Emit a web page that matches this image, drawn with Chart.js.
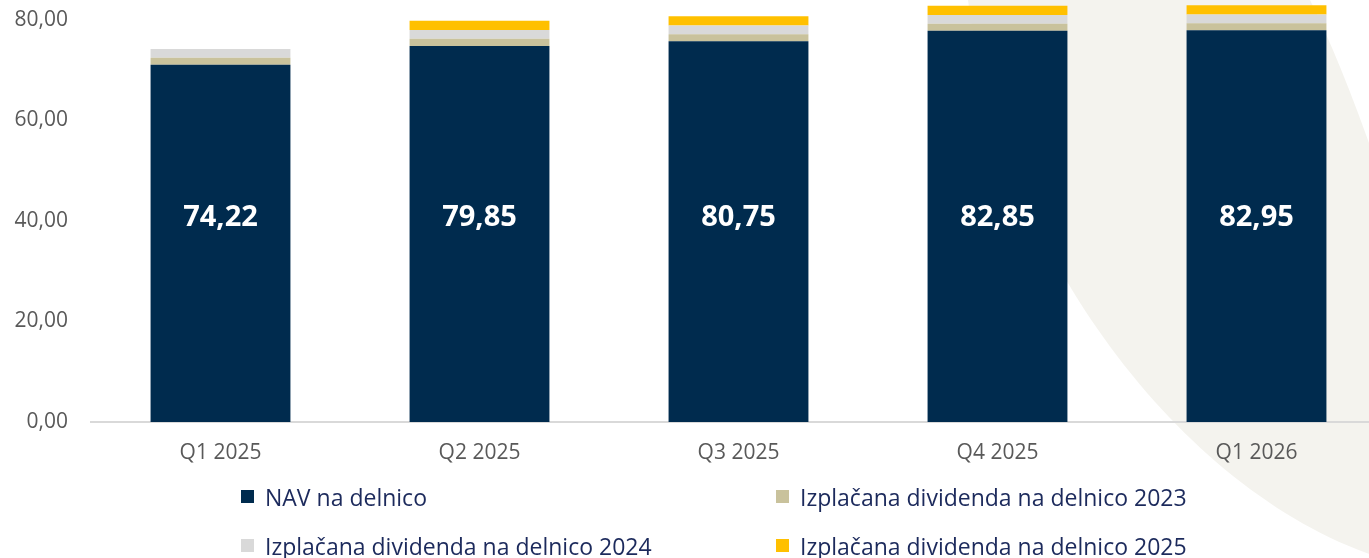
<!DOCTYPE html>
<html>
<head>
<meta charset="utf-8">
<script src="https://cdn.jsdelivr.net/npm/chart.js@4/dist/chart.umd.min.js"></script>
<style>
  html, body { margin: 0; padding: 0; background: #fff; overflow: hidden; }
  #wrap { position: relative; width: 1386px; height: 558px; }
  #legend {
    position: absolute; left: 241px; top: 472px;
    display: grid; grid-template-columns: 535px auto; grid-auto-rows: 49px;
    font-family: "Open Sans", sans-serif; font-size: 23px; color: #1c2a5c;
  }
  #legend .item { display: flex; align-items: center; white-space: nowrap; }
  #legend .box { width: 13px; height: 13px; margin-right: 11px; }
</style>
</head>
<body>
<div id="wrap">
  <canvas id="nav-chart" width="1386" height="558"></canvas>
  <div id="legend"></div>
</div>
<script>
var quarters = ['Q1 2025', 'Q2 2025', 'Q3 2025', 'Q4 2025', 'Q1 2026'];
var navPerShare = [71.07, 74.85, 75.75, 77.85, 77.95];
var div2023 = [1.4, 1.4, 1.4, 1.4, 1.4];
var div2024 = [1.75, 1.75, 1.75, 1.75, 1.75];
var div2025 = [0, 1.85, 1.85, 1.85, 1.85];
var totalLabels = ['74,22', '79,85', '80,75', '82,85', '82,95'];
var yTicks = [0, 20, 40, 60, 80];

// decorative crescent in the background
var backdrop = {
  id: 'backdrop',
  beforeDraw: function(chart) {
    var ctx = chart.ctx;
    ctx.save();
    ctx.fillStyle = '#f4f3ee';
    ctx.beginPath();
    ctx.moveTo(968, 0);
    ctx.lineTo(1310, 0);
    ctx.quadraticCurveTo(1340, 60, 1375, 160);
    ctx.lineTo(1375, 556);
    ctx.bezierCurveTo(1180, 490, 1000, 250, 968, 0);
    ctx.closePath();
    ctx.fill();
    ctx.restore();
  }
};

// totals written inside the navy bars
var totals = {
  id: 'totals',
  afterDatasetsDraw: function(chart, args, opts) {
    var ctx = chart.ctx;
    var meta = chart.getDatasetMeta(0);
    var y = chart.scales.y.getPixelForValue(opts.at);
    ctx.save();
    ctx.fillStyle = '#ffffff';
    ctx.font = 'bold 29px "Open Sans", sans-serif';
    ctx.textAlign = 'center';
    ctx.textBaseline = 'middle';
    meta.data.forEach(function(bar, i) {
      ctx.fillText(totalLabels[i], bar.x, y);
    });
    ctx.restore();
  }
};

var chart = new Chart('nav-chart', {
  type: 'bar',
  data: {
    labels: quarters,
    datasets: [
      { label: 'NAV na delnico', data: navPerShare, backgroundColor: '#002b4e' },
      { label: 'Izplačana dividenda na delnico 2023', data: div2023, backgroundColor: '#c9c29c' },
      { label: 'Izplačana dividenda na delnico 2024', data: div2024, backgroundColor: '#d9d9d9' },
      { label: 'Izplačana dividenda na delnico 2025', data: div2025, backgroundColor: '#ffc000' }
    ]
  },
  options: {
    responsive: false,
    animation: false,
    layout: { padding: { top: 20, right: 0, left: 0, bottom: 0 } },
    datasets: { bar: { barPercentage: 0.54, categoryPercentage: 1, clip: false } },
    plugins: {
      legend: { display: false },
      tooltip: { enabled: false },
      totals: { at: 40.6 }
    },
    scales: {
      x: {
        stacked: true,
        grid: { display: false, drawTicks: false },
        border: { display: true, color: '#d9d9d9', width: 2 },
        ticks: { color: '#595959', font: { family: '"Open Sans", sans-serif', size: 21 }, padding: 18 },
        afterFit: function(scale) { scale.height = 136; }
      },
      y: {
        stacked: true,
        min: 0,
        max: 80,
        afterBuildTicks: function(scale) {
          scale.ticks = yTicks.map(function(v) { return { value: v }; });
        },
        grid: { display: false, drawTicks: false },
        border: { display: false },
        ticks: {
          color: '#595959',
          font: { family: '"Open Sans", sans-serif', size: 21 },
          padding: 23,
          callback: function(v) { return v.toFixed(2).replace('.', ','); }
        },
        afterFit: function(scale) {
          scale.width = 91;
          scale.paddingTop = 0;
          scale.paddingBottom = 0;
        }
      }
    }
  },
  plugins: [backdrop, totals]
});

var legend = document.getElementById('legend');
chart.data.datasets.forEach(function(ds) {
  var item = document.createElement('div');
  item.className = 'item';
  item.innerHTML = '<span class="box" style="background:' + ds.backgroundColor + '"></span>' + ds.label;
  legend.appendChild(item);
});
</script>
</body>
</html>
